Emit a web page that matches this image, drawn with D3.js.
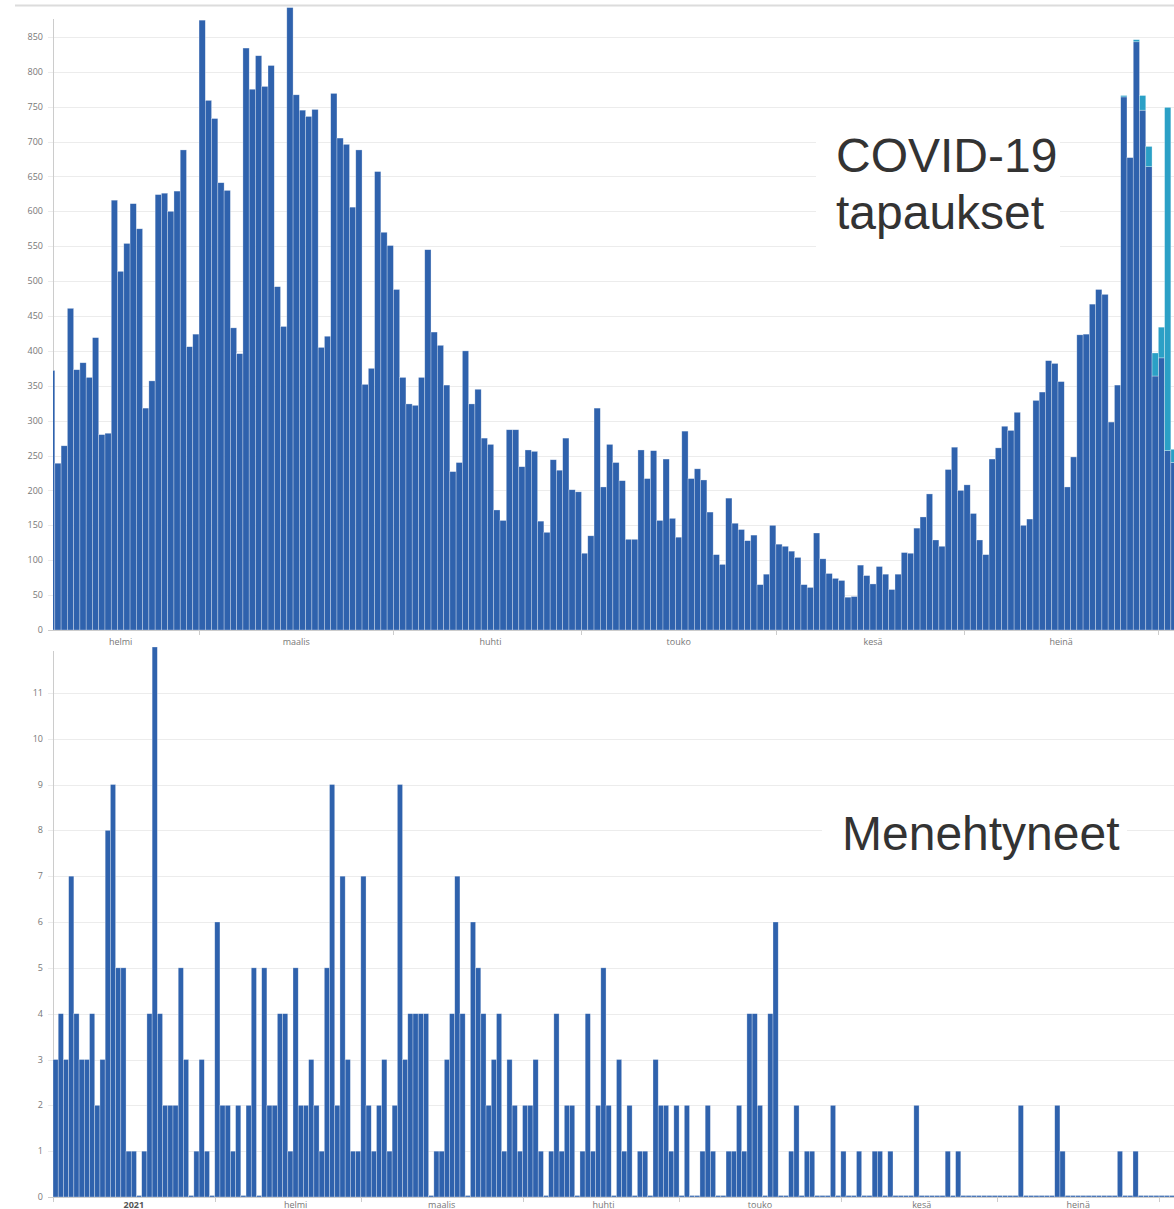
<!DOCTYPE html>
<html>
<head>
<meta charset="utf-8">
<script src="https://cdn.jsdelivr.net/npm/d3@7"></script>
<style>
  body { margin: 0; background: #fff; }
  svg { display: block; }
</style>
</head>
<body>
<div id="chart"></div>
<script>
const W = 1174, H = 1209;
const BLUE = "#2f62ad", CYAN = "#2ba0c6";

// daily cases from 5.2.2021
const caseStart = Date.UTC(2021, 1, 5);
const cases = [
  372, 239, 264, 461, 373, 383, 362, 419, 280, 282, 616, 514, 554, 611, 575, 318, 357, 624, 626, 600, 629, 688, 406, 424,
  874, 759, 733, 641, 630, 433, 396, 834, 775, 823, 779, 809, 492, 435, 892, 767, 745, 736, 746, 405, 421, 769, 705, 696, 606, 688, 352, 375, 657, 570, 551,
  488, 362, 324, 322, 362, 545, 427, 408, 351, 227, 240, 400, 324, 345, 275, 266, 172, 157, 287, 287, 234, 258, 256, 156, 140, 244, 229, 275, 201, 198,
  110, 135, 318, 205, 266, 240, 214, 130, 130, 258, 217, 257, 157, 245, 160, 133, 285, 217, 231, 215, 169, 108, 94, 189, 153, 144, 128, 136, 65, 80, 150,
  123, 120, 113, 104, 65, 61, 139, 102, 81, 74, 71, 47, 48, 93, 78, 66, 91, 80, 58, 80, 111, 110, 146, 162, 195, 129, 120, 230, 262, 200,
  208, 167, 129, 108, 245, 261, 292, 286, 312, 150, 159, 329, 341, 386, 382, 356, 205, 248, 423, 424, 467, 488, 481, 298, 351, 764, 677, 843, 745, 664, 364,
  390, 257, 240
];
// cases still coming in (lighter part on top), from 26.7.2021
const pendingStart = Date.UTC(2021, 6, 26);
const pending = [2, 0, 3, 21, 29, 33, 44, 492, 19];

// daily deaths from 1.1.2021
const deathStart = Date.UTC(2021, 0, 1);
const deaths = [
  3, 4, 3, 7, 4, 3, 3, 4, 2, 3, 8, 9, 5, 5, 1, 1, 0, 1, 4, 12, 4, 2, 2, 2, 5, 3, 0, 1, 3, 1, 0,
  6, 2, 2, 1, 2, 0, 2, 5, 0, 5, 2, 2, 4, 4, 1, 5, 2, 2, 3, 2, 1, 5, 9, 2, 7, 3, 1, 1,
  7, 2, 1, 2, 3, 1, 2, 9, 3, 4, 4, 4, 4, 0, 1, 1, 3, 4, 7, 4, 0, 6, 5, 4, 2, 3, 4, 1, 3, 2, 1,
  2, 2, 3, 1, 0, 1, 4, 1, 2, 2, 0, 1, 4, 1, 2, 5, 2, 0, 3, 1, 2, 0, 1, 1, 0, 3, 2, 2, 1, 2,
  0, 2, 0, 0, 1, 2, 1, 0, 0, 1, 1, 2, 1, 4, 4, 2, 0, 4, 6, 0, 0, 1, 2, 0, 1, 1, 0, 0, 0, 2, 0,
  1, 0, 0, 1, 0, 0, 1, 1, 0, 1, 0, 0, 0, 0, 2, 0, 0, 0, 0, 0, 1, 0, 1, 0, 0, 0, 0, 0, 0, 0,
  0, 0, 0, 0, 2, 0, 0, 0, 0, 0, 0, 2, 1, 0, 0, 0, 0, 0, 0, 0, 0, 0, 0, 1, 0, 0, 1, 0, 0, 0, 0,
  0, 0, 0
];

const monthNames = ["2021", "helmi", "maalis", "huhti", "touko", "kesä", "heinä", "elo"];
const caseTicks = d3.range(0, 851, 50);
const deathTicks = d3.range(0, 12);

const DAY = 864e5;
const day = (start, i) => new Date(start + i * DAY);

const svg = d3.select("#chart").append("svg")
    .attr("width", W)
    .attr("height", H)
    .style("font-family", "'Open Sans', 'DejaVu Sans', sans-serif");

svg.append("line") // thin frame line at the very top
    .attr("x1", 15).attr("x2", W)
    .attr("y1", 5.5).attr("y2", 5.5)
    .attr("stroke", "#dcdcdc").attr("stroke-width", 2);

function panel(opt) {
    const g = svg.append("g");
    const x = d3.scaleUtc().domain(opt.xDomain).range([53, W]);
    const y = d3.scaleLinear().domain(opt.yDomain).range([opt.bottom, opt.top]);

    // grid + y labels
    g.selectAll(".grid").data(opt.ticks).enter().append("line")
        .attr("x1", 48).attr("x2", W)
        .attr("y1", d => Math.round(y(d)) + 0.5).attr("y2", d => Math.round(y(d)) + 0.5)
        .attr("stroke", d => d === 0 ? "#ccc" : "#ececec");
    g.selectAll(".ylab").data(opt.ticks).enter().append("text")
        .attr("x", 43).attr("y", d => y(d))
        .attr("dy", "0.35em")
        .attr("text-anchor", "end")
        .attr("font-size", 9)
        .attr("fill", "#777")
        .text(d => d);
    g.append("line")
        .attr("x1", 53.5).attr("x2", 53.5)
        .attr("y1", opt.axisTop).attr("y2", opt.bottom)
        .attr("stroke", "#ccc");

    // title box hides the grid behind it
    g.append("rect")
        .attr("x", opt.box[0]).attr("y", opt.box[1])
        .attr("width", opt.box[2]).attr("height", opt.box[3])
        .attr("fill", "#fff");
    opt.title.forEach((t, i) => {
        g.append("text")
            .attr("x", opt.titleX).attr("y", opt.titleY + i * 57)
            .attr("font-family", "'Liberation Sans', Arial, sans-serif")
            .attr("font-size", 48)
            .attr("fill", "#333")
            .text(t);
    });

    const clipId = "clip" + opt.id;
    svg.append("clipPath").attr("id", clipId).append("rect")
        .attr("x", 53).attr("y", opt.top).attr("width", W - 53).attr("height", opt.bottom - opt.top);
    const bars = g.append("g").attr("clip-path", `url(#${clipId})`);

    opt.series.forEach(s => {
        bars.selectAll(null).data(s.values).enter().append("rect")
            .attr("x", (d, i) => x(day(s.start, i)))
            .attr("width", (d, i) => x(day(s.start, i + 1)) - x(day(s.start, i)))
            .attr("y", (d, i) => {
                const base = s.base ? s.base(i) : 0;
                return d === 0 ? y(base) - (s.base ? 0 : 1.5) : y(base + d);
            })
            .attr("height", (d, i) => {
                const base = s.base ? s.base(i) : 0;
                return d === 0 ? (s.base ? 0 : 1.5) : y(base) - y(base + d);
            })
            .attr("fill", s.color)
            .attr("stroke", "#fff")
            .attr("stroke-opacity", 0.5)
            .attr("stroke-width", 0.6);
    });

    // month ticks and labels (label sits mid-month)
    const months = d3.utcMonth.range(d3.utcMonth.floor(opt.xDomain[0]), opt.xDomain[1]);
    const mid = d => x(new Date(+d + 15.5 * DAY));
    g.selectAll(".mt").data(months.filter(m => x(m) >= 53)).enter().append("line")
        .attr("x1", d => Math.round(x(d)) + 0.5).attr("x2", d => Math.round(x(d)) + 0.5)
        .attr("y1", opt.bottom).attr("y2", opt.bottom + 5)
        .attr("stroke", "#ccc");
    g.selectAll(".ml").data(months.filter(m => mid(m) < W - 20)).enter().append("text")
        .attr("x", mid)
        .attr("y", opt.labelY)
        .attr("text-anchor", "middle")
        .attr("font-size", 9)
        .attr("font-weight", d => d.getUTCMonth() === 0 ? "bold" : null)
        .attr("fill", d => d.getUTCMonth() === 0 ? "#555" : "#777")
        .text(d => monthNames[d.getUTCMonth()]);
}

panel({
    id: "cases",
    xDomain: [new Date(Date.UTC(2021, 1, 5, 17)), new Date(Date.UTC(2021, 7, 3, 12))],
    yDomain: [0, 900],
    top: 2, bottom: 630, axisTop: 19,
    ticks: caseTicks,
    labelY: 645,
    box: [816, 115, 244, 147],
    title: ["COVID-19", "tapaukset"], titleX: 836, titleY: 172,
    series: [
        { start: caseStart, values: cases, color: BLUE },
        {
            start: pendingStart, values: pending, color: CYAN,
            base: i => cases[(pendingStart - caseStart) / DAY + i]
        }
    ]
});

panel({
    id: "deaths",
    xDomain: [new Date(Date.UTC(2021, 0, 1)), new Date(Date.UTC(2021, 7, 3, 20, 40))],
    yDomain: [0, 12],
    top: 647, bottom: 1197, axisTop: 651,
    ticks: deathTicks,
    labelY: 1207.5,
    box: [822, 795, 305, 73],
    title: ["Menehtyneet"], titleX: 842, titleY: 850,
    series: [{ start: deathStart, values: deaths, color: BLUE }]
});
</script>
</body>
</html>
